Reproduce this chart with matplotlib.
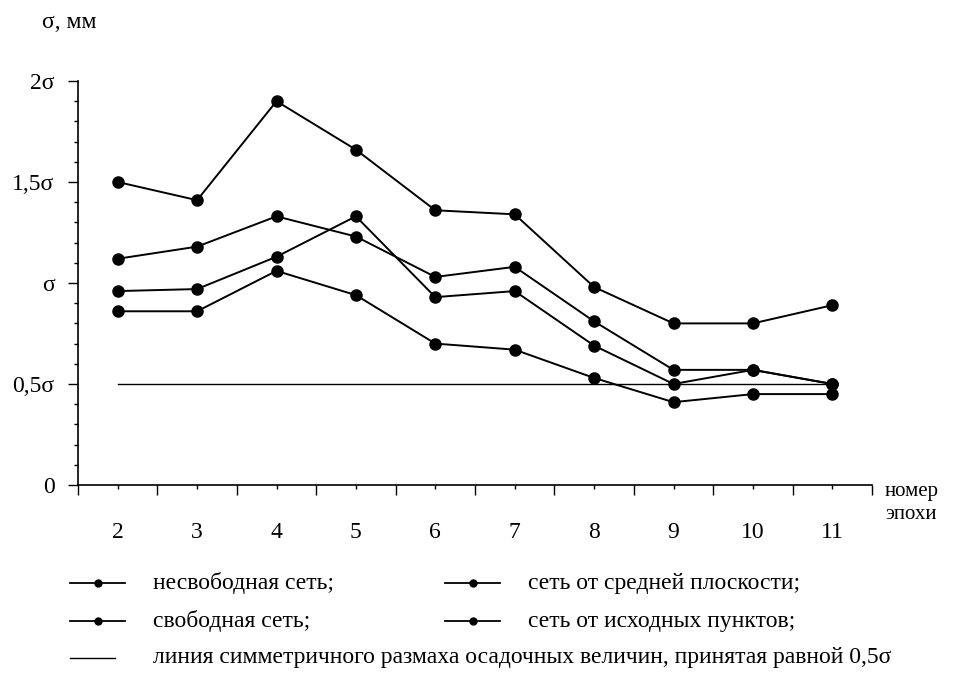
import numpy as np
import matplotlib
matplotlib.use("Agg")
import matplotlib.pyplot as plt
from matplotlib.lines import Line2D

plt.rcParams["font.family"] = ["Liberation Serif", "DejaVu Serif"]

# эпохи и значения (в долях sigma)
epochs = [2, 3, 4, 5, 6, 7, 8, 9, 10, 11]
s_nesvob = [1.50, 1.41, 1.90, 1.66, 1.36, 1.34, 0.98, 0.80, 0.80, 0.89]
s_ishod = [1.12, 1.18, 1.33, 1.23, 1.03, 1.08, 0.81, 0.57, 0.57, 0.50]
s_sredn = [0.96, 0.97, 1.13, 1.33, 0.93, 0.96, 0.69, 0.50, 0.57, 0.50]
s_svob = [0.86, 0.86, 1.06, 0.94, 0.70, 0.67, 0.53, 0.41, 0.45, 0.45]
half_level = 0.5

ytick_vals = [0, 0.5, 1, 1.5, 2]
ytick_labels = ["0", "0,5σ", "σ", "1,5σ", "2σ"]

fig = plt.figure(figsize=(9.55, 6.75), dpi=100)
ax = fig.add_axes([78 / 955, 1 - 485 / 675, 794 / 955, 404 / 675])

series = [s_nesvob, s_ishod, s_sredn, s_svob]
for s in series:
    ax.plot(epochs, s, color="black", lw=1.4, marker="o", ms=8,
            mfc="black", mec="black", zorder=3)

# линия 0,5 sigma
ax.plot([epochs[0], epochs[-1]], [half_level, half_level], color="black", lw=1.0)

ax.set_xlim(1.5, 11.5)
ax.set_ylim(0, 2)
for sp in ["top", "right"]:
    ax.spines[sp].set_visible(False)
ax.spines["left"].set_linewidth(1.2)
ax.spines["bottom"].set_linewidth(1.2)

ax.set_yticks(ytick_vals)
ax.set_yticklabels(ytick_labels, fontsize=17)
ax.set_yticks(np.arange(0, 2.01, 0.1), minor=True)
ax.tick_params(axis="y", which="major", direction="out", length=7, width=1, pad=10)
ax.tick_params(axis="y", which="minor", direction="out", length=3, width=1)

ax.set_xticks(epochs)
ax.set_xticklabels([str(e) for e in epochs], fontsize=17)
ax.set_xticks(np.arange(1.5, 11.6, 1.0), minor=True)
ax.tick_params(axis="x", which="major", direction="out", length=3, width=1, pad=24)
ax.tick_params(axis="x", which="minor", direction="out", length=7, width=1)

fig.text(42 / 955, 1 - 23 / 675, "σ, мм", fontsize=17, va="center", ha="left")
fig.text(885 / 955, 1 - 503 / 675, "номер\nэпохи", fontsize=15, va="center",
         ha="left", linespacing=1.25)

# легенда
leg_items = [
    (70, 583, "несвободная сеть;"),
    (445, 583, "сеть от средней плоскости;"),
    (70, 621, "свободная сеть;"),
    (445, 621, "сеть от исходных пунктов;"),
]
for x0, y0, txt in leg_items:
    yf = 1 - y0 / 675
    fig.add_artist(Line2D([x0 / 955, (x0 + 55) / 955], [yf, yf], color="black",
                          lw=1.3, transform=fig.transFigure))
    fig.add_artist(Line2D([(x0 + 28) / 955], [yf], color="black", marker="o",
                          ms=5, transform=fig.transFigure))
    fig.text((x0 + 83) / 955, yf, txt, fontsize=17, va="center", ha="left")

yf = 1 - 658 / 675
fig.add_artist(Line2D([70 / 955, 115 / 955], [yf, yf], color="black", lw=1.0,
                      transform=fig.transFigure))
fig.text(153 / 955, yf, "линия симметричного размаха осадочных величин, принятая равной 0,5σ",
         fontsize=17, va="center", ha="left")

fig.savefig("out.png", dpi=100)
